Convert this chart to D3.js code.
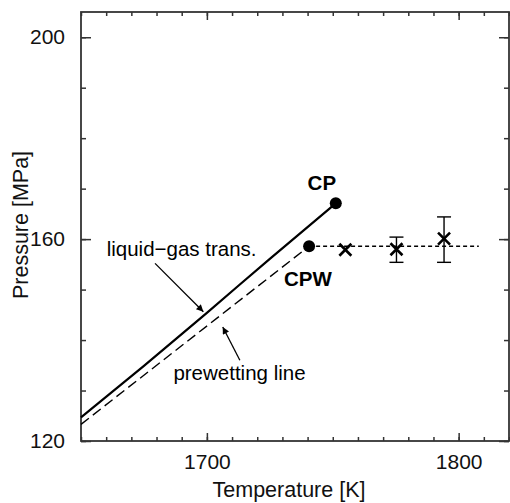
<!DOCTYPE html>
<html><head><meta charset="utf-8">
<script src="https://cdn.jsdelivr.net/npm/d3@7"></script>
<style>html,body{margin:0;padding:0;background:#fff;}svg{display:block;}</style>
</head><body>
<svg id="c" width="510" height="503"></svg>
<script>
// Data
const liquidGasT = [1650, 1675, 1700, 1725, 1751.2];
const liquidGasP = [124.7, 134.9, 145.4, 156.1, 167.1];
const prewetT = [1650, 1740.6];
const prewetP = [123.3, 158.6];
const criticalPoint = {T: 1751.2, P: 167.1};
const prewetCritical = {T: 1740.6, P: 158.6};
const horizT = [1740.6, 1808];
const horizP = [158.6, 158.6];
const simT = [1755, 1775.3, 1794.2];
const simP = [157.9, 158.0, 160.1];
const simLow = [157.9, 155.4, 155.4];
const simHigh = [157.9, 160.4, 164.4];
const xMajor = [1700, 1800];
const yMajor = [120, 160, 200];

const svg = d3.select('#c');
const x = d3.scaleLinear().domain([1650, 1820]).range([81, 509]);
const y = d3.scaleLinear().domain([120, 205]).range([441, 12]);
const font = "'Liberation Sans', Arial, Helvetica, sans-serif";
const axisCol = '#333';

svg.append('defs').append('marker')
  .attr('id','ah').attr('viewBox','0 0 10 10').attr('refX',10).attr('refY',5)
  .attr('markerWidth',9).attr('markerHeight',7).attr('markerUnits','userSpaceOnUse')
  .attr('orient','auto')
  .append('path').attr('d','M0,0 L10,5 L0,10 z').attr('fill','#000');

// Axes
const xMinor = d3.range(1650, 1821, 10);
const yMinor = d3.range(120, 206, 10);
function axisG(axis, tr){ const g = svg.append('g').attr('transform', tr).call(axis);
  g.selectAll('path,line').attr('stroke', axisCol).attr('stroke-width',1.5);
  g.selectAll('text').attr('font-family', font).attr('font-size', 21).attr('fill','#111');
  return g; }
// minor ticks
axisG(d3.axisBottom(x).tickValues(xMinor).tickSize(-4).tickFormat('').tickSizeOuter(0), `translate(0,${y.range()[0]})`);
axisG(d3.axisTop(x).tickValues(xMinor).tickSize(-4).tickFormat('').tickSizeOuter(0), `translate(0,${y.range()[1]})`);
axisG(d3.axisLeft(y).tickValues(yMinor).tickSize(-5).tickFormat('').tickSizeOuter(0), `translate(${x.range()[0]},0)`);
axisG(d3.axisRight(y).tickValues(yMinor).tickSize(-5).tickFormat('').tickSizeOuter(0), `translate(${x.range()[1]},0)`);
// major ticks
axisG(d3.axisBottom(x).tickValues(xMajor).tickSize(-8).tickPadding(13).tickFormat(d3.format('d')).tickSizeOuter(0), `translate(0,${y.range()[0]})`);
axisG(d3.axisTop(x).tickValues(xMajor).tickSize(-8).tickFormat('').tickSizeOuter(0), `translate(0,${y.range()[1]})`);
axisG(d3.axisLeft(y).tickValues(yMajor).tickSize(-10).tickPadding(16).tickFormat(d3.format('d')).tickSizeOuter(0), `translate(${x.range()[0]},0)`);
axisG(d3.axisRight(y).tickValues(yMajor).tickSize(-10).tickFormat('').tickSizeOuter(0), `translate(${x.range()[1]},0)`);
svg.selectAll('.domain').remove();
// frame
svg.append('rect').attr('x', x.range()[0]).attr('y', y.range()[1])
  .attr('width', x.range()[1]-x.range()[0]).attr('height', y.range()[0]-y.range()[1])
  .attr('fill','none').attr('stroke',axisCol).attr('stroke-width',1.8);

// Axis labels
svg.append('text').attr('x', 289).attr('y', 497).attr('text-anchor','middle')
  .attr('font-family',font).attr('font-size',21.5).attr('fill','#111').text('Temperature [K]');
svg.append('text').attr('transform','translate(28,225) rotate(-90)').attr('text-anchor','middle')
  .attr('font-family',font).attr('font-size',21.5).attr('fill','#111').text('Pressure [MPa]');

// Lines
const line = d3.line().x(d=>x(d[0])).y(d=>y(d[1])).curve(d3.curveMonotoneX);
svg.append('path').datum(d3.zip(liquidGasT, liquidGasP)).attr('d', line)
  .attr('fill','none').attr('stroke','#000').attr('stroke-width',2.2);
svg.append('path').datum(d3.zip(prewetT, prewetP)).attr('d', d3.line().x(d=>x(d[0])).y(d=>y(d[1])))
  .attr('fill','none').attr('stroke','#000').attr('stroke-width',1.4).attr('stroke-dasharray','10,5');
svg.append('path').datum(d3.zip(horizT, horizP)).attr('d', d3.line().x(d=>x(d[0])).y(d=>y(d[1])))
  .attr('fill','none').attr('stroke','#000').attr('stroke-width',1.4).attr('stroke-dasharray','4,3');

// Critical points
[criticalPoint, prewetCritical].forEach(p=>{
  svg.append('circle').attr('cx', x(p.T)).attr('cy', y(p.P)).attr('r', 6).attr('fill','#000');
});

// Simulation points with error bars
simT.forEach((t,i)=>{
  const cx = x(t), cy = y(simP[i]);
  if (simHigh[i] > simLow[i]) {
    const g = svg.append('g').attr('stroke','#000').attr('stroke-width',1.4);
    g.append('line').attr('x1',cx).attr('x2',cx).attr('y1',y(simLow[i])).attr('y2',y(simHigh[i]));
    g.append('line').attr('x1',cx-7).attr('x2',cx+7).attr('y1',y(simLow[i])).attr('y2',y(simLow[i]));
    g.append('line').attr('x1',cx-7).attr('x2',cx+7).attr('y1',y(simHigh[i])).attr('y2',y(simHigh[i]));
  }
  const s = 6;
  svg.append('path').attr('d',`M${cx-s},${cy-s}L${cx+s},${cy+s}M${cx-s},${cy+s}L${cx+s},${cy-s}`)
    .attr('stroke','#000').attr('stroke-width',2.6);
});

// Annotations
const labels = [
  {T:1660.2, P:156.7, text:'liquid\u2212gas trans.', bold:false},
  {T:1686.7, P:132.1, text:'prewetting line', bold:false},
  {T:1740.0, P:169.7, text:'CP', bold:true},
  {T:1730.6, P:150.7, text:'CPW', bold:true}
];
labels.forEach(l=>{
  svg.append('text').attr('x', x(l.T)).attr('y', y(l.P))
    .attr('font-family',font).attr('font-size',20.5).attr('font-weight', l.bold?'bold':'normal')
    .attr('fill','#000').text(l.text);
});
const arrows = [
  {T1:1679.4, P1:155.2, T2:1698.6, P2:145.6},
  {T1:1713.1, P1:136.0, T2:1706.3, P2:142.6}
];
arrows.forEach(a=>{
  svg.append('line').attr('x1',x(a.T1)).attr('y1',y(a.P1)).attr('x2',x(a.T2)).attr('y2',y(a.P2))
    .attr('stroke','#000').attr('stroke-width',1.3).attr('marker-end','url(#ah)');
});
</script>
</body></html>
